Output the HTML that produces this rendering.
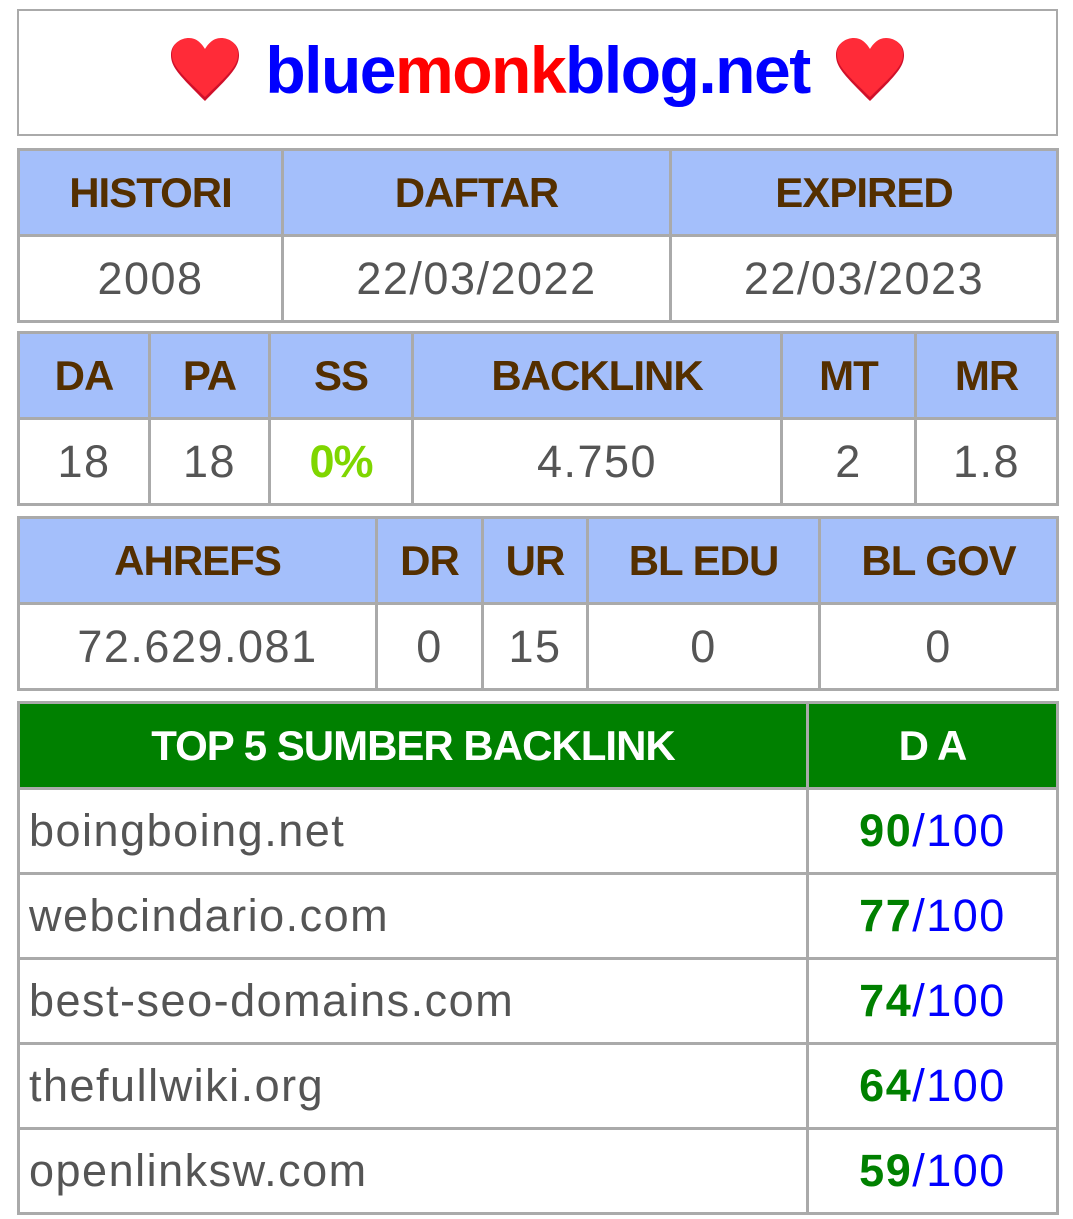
<!DOCTYPE html>
<html><head><meta charset="utf-8"><style>
body{margin:0;width:1073px;height:1219px;background:#fff;font-family:"Liberation Sans",sans-serif;position:relative;overflow:hidden}
.box{position:absolute;left:17px;width:1041px;box-sizing:border-box}
table{border-collapse:collapse;table-layout:fixed;position:absolute;left:17px;width:1039px}
td{border:3px solid #aaa;text-align:center;padding:0;overflow:hidden;white-space:nowrap}
.h td{background:#a4bffb;color:#542f00;font-weight:bold;font-size:42px;letter-spacing:-1px}
.d td{color:#555;font-size:45px;letter-spacing:1.5px}
.g td{background:#008000;color:#fff;font-weight:bold;font-size:42px;letter-spacing:-1px}
.s td{color:#555;font-size:45px;letter-spacing:1.5px}
.s td.l{text-align:left;padding-left:9px}
.gn{color:#008000;font-weight:bold}.bl{color:#0000ff}
</style></head><body>
<div class="box" style="top:9px;height:127px;border:2px solid #aaa;text-align:center">
<div style="position:absolute;left:0;right:0;top:24px;font-size:66px;font-weight:bold;line-height:70px;color:#00f;letter-spacing:-1.5px">
<svg width="72" height="66" viewBox="0 0 72 66" style="vertical-align:-10px;margin-right:24px"><path d="M36 64 C10 38 2 30 2 18 C2 6 12 2 20 2 C28 2 33 8 36 13 C39 8 44 2 52 2 C60 2 70 6 70 18 C70 30 62 38 36 64Z" fill="#d0102a"/><path d="M36 60 C10 35 3 28 3 17 C3 6 12 1 20 1 C28 1 33 7 36 12 C39 7 44 1 52 1 C60 1 69 6 69 17 C69 28 62 35 36 60Z" fill="#ff2b38"/></svg>blue<span style="color:#f00">monk</span>blog.net<svg width="72" height="66" viewBox="0 0 72 66" style="vertical-align:-10px;margin-left:24px"><path d="M36 64 C10 38 2 30 2 18 C2 6 12 2 20 2 C28 2 33 8 36 13 C39 8 44 2 52 2 C60 2 70 6 70 18 C70 30 62 38 36 64Z" fill="#d0102a"/><path d="M36 60 C10 35 3 28 3 17 C3 6 12 1 20 1 C28 1 33 7 36 12 C39 7 44 1 52 1 C60 1 69 6 69 17 C69 28 62 35 36 60Z" fill="#ff2b38"/></svg>
</div></div>

<table style="top:148px">
<colgroup><col style="width:264px"><col style="width:388px"><col style="width:387px"></colgroup>
<tr class="h" style="height:86px"><td>HISTORI</td><td>DAFTAR</td><td>EXPIRED</td></tr>
<tr class="d" style="height:86px"><td>2008</td><td>22/03/2022</td><td>22/03/2023</td></tr>
</table>

<table style="top:331px">
<colgroup><col style="width:131px"><col style="width:120px"><col style="width:143px"><col style="width:369px"><col style="width:134px"><col style="width:142px"></colgroup>
<tr class="h" style="height:86px"><td>DA</td><td>PA</td><td>SS</td><td>BACKLINK</td><td>MT</td><td>MR</td></tr>
<tr class="d" style="height:86px"><td>18</td><td>18</td><td style="color:#7fd600;font-weight:bold;letter-spacing:-1px">0%</td><td>4.750</td><td>2</td><td>1.8</td></tr>
</table>

<table style="top:516px">
<colgroup><col style="width:358px"><col style="width:106px"><col style="width:105px"><col style="width:232px"><col style="width:238px"></colgroup>
<tr class="h" style="height:86px"><td>AHREFS</td><td>DR</td><td>UR</td><td>BL EDU</td><td>BL GOV</td></tr>
<tr class="d" style="height:86px"><td>72.629.081</td><td>0</td><td>15</td><td>0</td><td>0</td></tr>
</table>

<table style="top:701px">
<colgroup><col style="width:789px"><col style="width:250px"></colgroup>
<tr class="g" style="height:86px"><td>TOP 5 SUMBER BACKLINK</td><td>D A</td></tr>
<tr class="s" style="height:85px"><td class="l">boingboing.net</td><td><span class="gn">90</span><span class="bl">/100</span></td></tr>
<tr class="s" style="height:85px"><td class="l">webcindario.com</td><td><span class="gn">77</span><span class="bl">/100</span></td></tr>
<tr class="s" style="height:85px"><td class="l">best-seo-domains.com</td><td><span class="gn">74</span><span class="bl">/100</span></td></tr>
<tr class="s" style="height:85px"><td class="l">thefullwiki.org</td><td><span class="gn">64</span><span class="bl">/100</span></td></tr>
<tr class="s" style="height:85px"><td class="l">openlinksw.com</td><td><span class="gn">59</span><span class="bl">/100</span></td></tr>
</table>
</body></html>
